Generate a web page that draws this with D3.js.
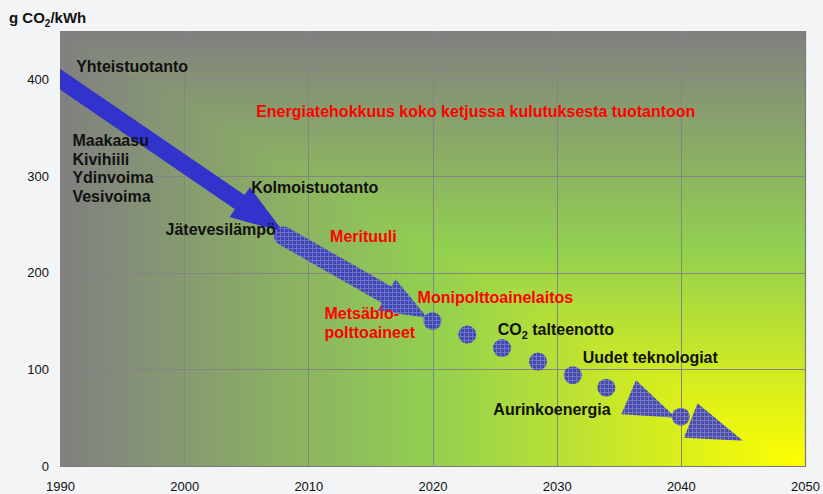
<!DOCTYPE html>
<html>
<head>
<meta charset="utf-8">
<script src="https://cdn.jsdelivr.net/npm/d3@7"></script>
<style>
  body { margin: 0; background: #f3f4f6; }
  svg { display: block; font-family: "Liberation Sans", Arial, sans-serif; }
</style>
</head>
<body>
<div id="chart"></div>
<script>
// axis ticks
const years = [1990, 2000, 2010, 2020, 2030, 2040, 2050];
const yTicks = [0, 100, 200, 300, 400];

// arrows as [year, value] start -> end
const solidArrow = [[1989, 409], [2008, 242]];
const textureArrow = [[2008, 238], [2019.6, 153]];

// dots along the path
const dotYears = [2020, 2022.8, 2025.6, 2028.5, 2031.3, 2034, 2040];
const dotValues = [150, 136, 122, 108, 94, 81, 51];

// loose arrow heads (base -> tip)
const headBase = [[2035.8, 71], [2040.8, 47]];
const headTip = [[2039.6, 50], [2045, 26]];

// annotations, anchored in data units
const labels = [
    {text: ["Yhteistuotanto"], year: 1991.3, value: 407.5, red: false},
    {text: ["Maakaasu", "Kivihiili", "Ydinvoima", "Vesivoima"], year: 1991, value: 331, red: false},
    {text: ["Kolmoistuotanto"], year: 2005.4, value: 282.5, red: false},
    {text: ["Jätevesilämpö"], year: 1998.5, value: 239, red: false},
    {text: ["Energiatehokkuus koko ketjussa kulutuksesta tuotantoon"], year: 2005.8, value: 361, red: true},
    {text: ["Merituuli"], year: 2011.75, value: 231.5, red: true},
    {text: ["Monipolttoainelaitos"], year: 2018.8, value: 168.5, red: true},
    {text: ["Metsäbio-", "polttoaineet"], year: 2011.3, value: 152, red: true},
    {text: ["Uudet teknologiat"], year: 2032.1, value: 106.5, red: false},
    {text: ["Aurinkoenergia"], year: 2024.9, value: 53, red: false}
];
const co2Label = {year: 2025.25, value: 135.5};

const W = 823, H = 494;
const plot = {left: 60, right: 805, top: 31, bottom: 466};

const svg = d3.select("#chart").append("svg")
    .attr("width", W).attr("height", H);

const x = d3.scaleLinear().domain([1990, 2050]).range([plot.left, plot.right]);
const y = d3.scaleLinear().domain([0, 450]).range([plot.bottom, plot.top]);

const defs = svg.append("defs");

// background: rectangular gradient from bottom-right corner,
// horizontal gradient everywhere, vertical one over the upper-right triangle
const stops = [[0, "#808080"], [0.5, "#92d050"], [1, "#ffff00"]];
const gv = defs.append("linearGradient").attr("id", "gv")
    .attr("gradientUnits", "userSpaceOnUse")
    .attr("x1", 0).attr("x2", 0).attr("y1", plot.top).attr("y2", plot.bottom);
const gh = defs.append("linearGradient").attr("id", "gh")
    .attr("gradientUnits", "userSpaceOnUse")
    .attr("x1", plot.left).attr("x2", plot.right).attr("y1", 0).attr("y2", 0);
[gv, gh].forEach(g => stops.forEach(s =>
    g.append("stop").attr("offset", s[0]).attr("stop-color", s[1])));

const L = plot.left, R = plot.right, T = plot.top, B = plot.bottom;
svg.append("rect")
    .attr("x", L).attr("y", T).attr("width", R - L).attr("height", B - T)
    .attr("fill", "url(#gh)");
svg.append("polygon")
    .attr("points", [[L, T], [R, T], [R, B]].join(" "))
    .attr("fill", "url(#gv)");

defs.append("clipPath").attr("id", "plotclip")
    .append("rect")
    .attr("x", L).attr("y", T).attr("width", R - L).attr("height", B - T);

// checkered texture
const pat = defs.append("pattern").attr("id", "tex")
    .attr("width", 4).attr("height", 4)
    .attr("patternUnits", "userSpaceOnUse");
pat.append("rect").attr("width", 4).attr("height", 4).attr("fill", "#3434c4");
pat.append("rect").attr("width", 4).attr("height", 1).attr("fill", "#6868d0");
pat.append("rect").attr("width", 1).attr("height", 4).attr("fill", "#6868d0");

// grid lines
const grid = svg.append("g").attr("stroke", "#848484").attr("stroke-width", 1);
grid.selectAll(".hg")
    .data(yTicks.filter(d => d > 0))
    .enter().append("line")
    .attr("x1", L).attr("x2", R)
    .attr("y1", d => Math.round(y(d)) + 0.5).attr("y2", d => Math.round(y(d)) + 0.5);
grid.selectAll(".vg")
    .data(years.slice(1, -1))
    .enter().append("line")
    .attr("y1", T).attr("y2", B)
    .attr("x1", d => Math.round(x(d)) + 0.5).attr("x2", d => Math.round(x(d)) + 0.5);

// plot frame (right and bottom)
svg.append("path")
    .attr("d", `M${R + 0.5},${T} V${B + 0.5} H${L}`)
    .attr("fill", "none").attr("stroke", "#7a7a7a").attr("stroke-width", 1.2);

// axes
const yAxis = svg.append("g")
    .attr("transform", `translate(${L},0)`)
    .call(d3.axisLeft(y).tickValues(yTicks).tickSize(0).tickPadding(11));
const xAxis = svg.append("g")
    .attr("transform", `translate(0,${B})`)
    .call(d3.axisBottom(x).tickValues(years).tickFormat(d3.format("d")).tickSize(0).tickPadding(16));
[yAxis, xAxis].forEach(a => {
    a.select(".domain").remove();
    a.selectAll("text").attr("font-size", 13).attr("fill", "#111")
        .attr("font-family", "'Liberation Sans', Arial, sans-serif");
});

// title
const title = svg.append("text")
    .attr("x", 9).attr("y", 23)
    .attr("font-size", 15).attr("font-weight", "bold").attr("fill", "#111");
title.append("tspan").text("g CO");
title.append("tspan").attr("font-size", 10).attr("dy", 4).text("2");
title.append("tspan").attr("dy", -4).text("/kWh");

// arrow geometry
function arrowPath(p0, p1, shaft, headLen, headW, roundStart) {
    const dx = p1[0] - p0[0], dy = p1[1] - p0[1];
    const len = Math.hypot(dx, dy);
    const ux = dx / len, uy = dy / len, nx = -uy, ny = ux;
    const bx = p1[0] - ux * headLen, by = p1[1] - uy * headLen;
    const s = shaft / 2, h = headW / 2;
    const p = d3.path();
    p.moveTo(p0[0] + nx * s, p0[1] + ny * s);
    p.lineTo(bx + nx * s, by + ny * s);
    p.lineTo(bx + nx * h, by + ny * h);
    p.lineTo(p1[0], p1[1]);
    p.lineTo(bx - nx * h, by - ny * h);
    p.lineTo(bx - nx * s, by - ny * s);
    p.lineTo(p0[0] - nx * s, p0[1] - ny * s);
    if (roundStart) {
        const a = Math.atan2(-ny, -nx);
        p.arc(p0[0], p0[1], s, a, a - Math.PI, true);
    }
    p.closePath();
    return p.toString();
}

function headPath(base, tip, headW) {
    const dx = tip[0] - base[0], dy = tip[1] - base[1];
    const len = Math.hypot(dx, dy);
    const nx = -dy / len, ny = dx / len, h = headW / 2;
    return `M${base[0] + nx * h},${base[1] + ny * h}L${tip[0]},${tip[1]}L${base[0] - nx * h},${base[1] - ny * h}Z`;
}

const px = d => [x(d[0]), y(d[1])];
const marks = svg.append("g").attr("clip-path", "url(#plotclip)");

marks.append("path")
    .attr("d", arrowPath(px(solidArrow[0]), px(solidArrow[1]), 17, 53, 36, false))
    .attr("fill", "#3232cc");

marks.append("path")
    .attr("d", arrowPath(px(textureArrow[0]), px(textureArrow[1]), 19, 47, 36, true))
    .attr("fill", "url(#tex)").attr("fill-opacity", 0.88);

marks.selectAll(".head")
    .data(headBase.map((b, i) => [b, headTip[i]]))
    .enter().append("path")
    .attr("d", d => headPath(px(d[0]), px(d[1]), 37))
    .attr("fill", "url(#tex)").attr("fill-opacity", 0.88);

marks.selectAll(".dot")
    .data(dotYears.map((yr, i) => [yr, dotValues[i]]))
    .enter().append("circle")
    .attr("cx", d => x(d[0])).attr("cy", d => y(d[1]))
    .attr("r", 9)
    .attr("fill", "url(#tex)").attr("fill-opacity", 0.88);

// annotations
const lab = svg.append("g")
    .attr("font-size", 16).attr("font-weight", "bold");
labels.forEach(l => {
    const t = lab.append("text")
        .attr("x", x(l.year)).attr("y", y(l.value))
        .attr("fill", l.red ? "#ff0000" : "#111");
    l.text.forEach((line, i) => {
        t.append("tspan").attr("x", x(l.year)).attr("dy", i === 0 ? 0 : 18.7).text(line);
    });
});
const co2 = lab.append("text")
    .attr("x", x(co2Label.year)).attr("y", y(co2Label.value)).attr("fill", "#111");
co2.append("tspan").text("CO");
co2.append("tspan").attr("font-size", 11).attr("dy", 4).text("2");
co2.append("tspan").attr("dy", -4).text(" talteenotto");
</script>
</body>
</html>
